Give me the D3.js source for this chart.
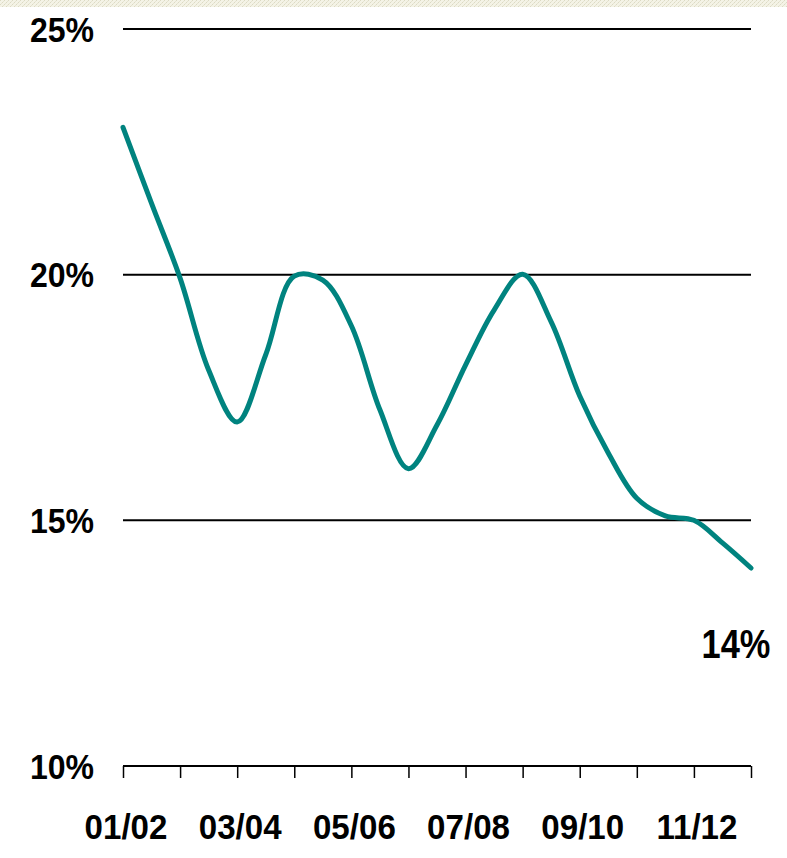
<!DOCTYPE html>
<html>
<head>
<meta charset="utf-8">
<script src="https://cdn.jsdelivr.net/npm/d3@7"></script>
<style>
  html, body { margin: 0; padding: 0; background: #ffffff; }
  svg { display: block; }
</style>
</head>
<body>
<div id="chart"></div>
<script>
// ---- Data (half-yearly readings, x in years since 01/02) ----
const periods = [0, 0.5, 1, 1.5, 2, 2.5, 3, 3.5, 4, 4.5, 5, 5.5, 6, 6.5, 7, 7.5, 8, 8.5, 9, 9.5, 10, 10.5, 11];
const values  = [23.0, 21.45, 19.93, 18.06, 17.0, 18.37, 19.97, 19.89, 18.96, 17.25, 16.05, 16.94,
                 18.16, 19.28, 20.01, 19.04, 17.53, 16.37, 15.45, 15.09, 15.0, 14.54, 14.03];
const yearTicks  = ["01/02","02/03","03/04","04/05","05/06","06/07","07/08","08/09","09/10","10/11","11/12","12/13"];
const yTickVals  = [10, 15, 20, 25];
const endLabel   = "14%";

(function () {
const W = 787, H = 858;
const mLeft = 123, mRight = 751, mTop = 29, mBottom = 766;

const svg = d3.select("#chart").append("svg").attr("width", W).attr("height", H);

// textured strip at top
const defs = svg.append("defs");
const pat = defs.append("pattern").attr("id", "tex").attr("width", 4).attr("height", 4)
  .attr("patternUnits", "userSpaceOnUse");
pat.append("rect").attr("width", 4).attr("height", 4).attr("fill", "#f4f3e6");
pat.append("rect").attr("x", 0).attr("y", 0).attr("width", 1).attr("height", 1).attr("fill", "#dcdac4");
pat.append("rect").attr("x", 2).attr("y", 2).attr("width", 1).attr("height", 1).attr("fill", "#dcdac4");
pat.append("rect").attr("x", 1).attr("y", 3).attr("width", 1).attr("height", 1).attr("fill", "#e6e4d2");
pat.append("rect").attr("x", 3).attr("y", 1).attr("width", 1).attr("height", 1).attr("fill", "#e6e4d2");
svg.append("rect").attr("x", 0).attr("y", 0).attr("width", W).attr("height", 7).attr("fill", "url(#tex)");

const x = d3.scaleLinear().domain([0, yearTicks.length - 1]).range([mLeft, mRight]);
const y = d3.scaleLinear().domain([10, 25]).range([mBottom, mTop]);

const font = "'Liberation Sans', Arial, sans-serif";

// gridlines (15, 20, 25)
svg.append("g").selectAll("line").data(yTickVals.filter(v => v > 10)).join("line")
  .attr("x1", mLeft).attr("x2", mRight)
  .attr("y1", d => y(d)).attr("y2", d => y(d))
  .attr("stroke", "#000").attr("stroke-width", 2);

// y labels
svg.append("g").selectAll("text").data(yTickVals).join("text")
  .attr("transform", d => `translate(94,${y(d) + 12.5}) scale(0.89,1)`)
  .attr("text-anchor", "end")
  .attr("font-family", font).attr("font-weight", "bold").attr("font-size", 36)
  .attr("fill", "#000")
  .text(d => d + "%");

// x axis
const xAxis = d3.axisBottom(x)
  .tickValues(d3.range(yearTicks.length))
  .tickSize(12)
  .tickFormat("");
const gx = svg.append("g").attr("transform", `translate(0,${mBottom})`).call(xAxis);
gx.select(".domain").attr("stroke", "#000").attr("stroke-width", 2).attr("d", `M${mLeft},0H${mRight}`);
gx.selectAll(".tick line").attr("stroke", "#000").attr("stroke-width", 1.5);

// x labels (every other year)
svg.append("g").selectAll("text")
  .data(yearTicks.map((t, i) => ({ t, i })).filter(d => d.i % 2 === 0))
  .join("text")
  .attr("transform", d => `translate(${x(d.i) + 3},839) scale(0.92,1)`)
  .attr("text-anchor", "middle")
  .attr("font-family", font).attr("font-weight", "bold").attr("font-size", 36)
  .attr("fill", "#000")
  .text(d => d.t);

// line
const line = d3.line()
  .x((d, i) => x(periods[i]))
  .y(d => y(d))
  .curve(d3.curveCatmullRom.alpha(0.5));
svg.append("path").datum(values)
  .attr("d", line)
  .attr("fill", "none")
  .attr("stroke", "#00837f")
  .attr("stroke-width", 5)
  .attr("stroke-linecap", "round")
  .attr("stroke-linejoin", "round");

// end label
svg.append("text")
  .attr("transform", `translate(${x(periods[periods.length - 1]) - 15},658) scale(0.84,1)`)
  .attr("text-anchor", "middle")
  .attr("font-family", font).attr("font-weight", "bold").attr("font-size", 41)
  .attr("fill", "#000")
  .text(endLabel);
})();
</script>
</body>
</html>
